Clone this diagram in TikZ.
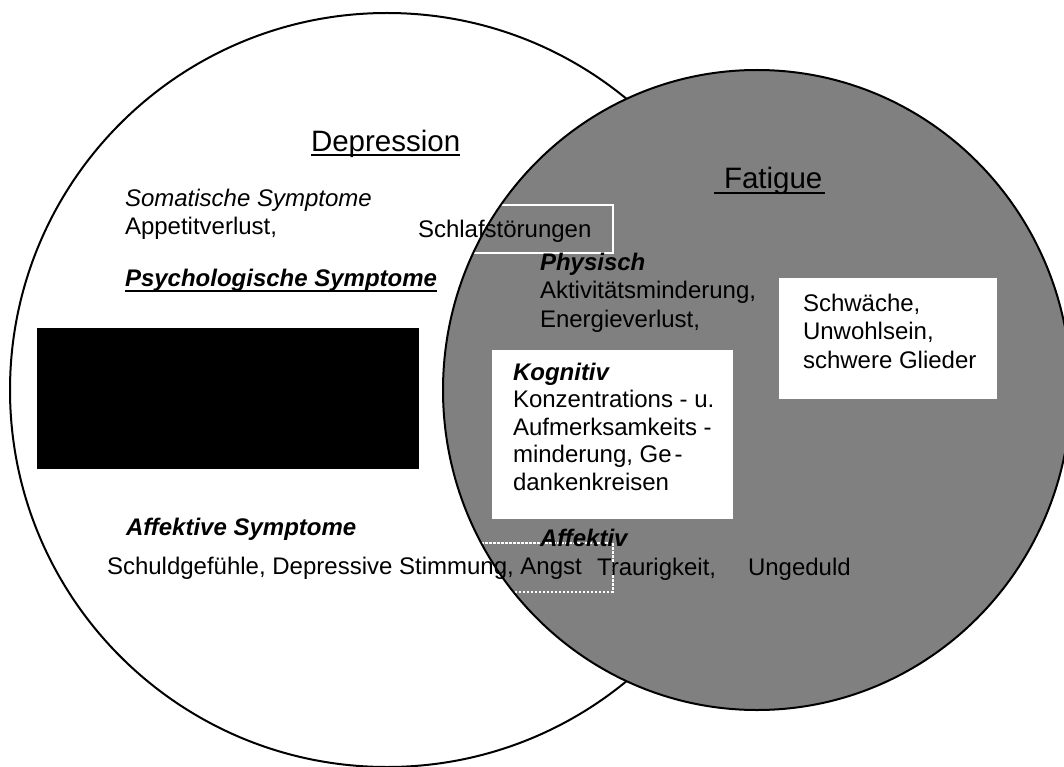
\documentclass[tikz,border=0pt]{standalone}
\usepackage{fontspec}
\setmainfont{Liberation Sans}
\definecolor{venngray}{RGB}{128,128,128}
\tikzset{
  t/.style={inner sep=0pt, outer sep=0pt, anchor=base west, font=\fontsize{24}{28}\selectfont},
  ti/.style={t, font=\fontsize{24}{28}\selectfont\itshape},
  tb/.style={t, font=\fontsize{24}{28}\selectfont\bfseries\itshape},
  title/.style={inner sep=0pt, outer sep=0pt, anchor=base west, font=\fontsize{29.5}{34}\selectfont},
  whitebox/.style={fill=white, draw=none, inner sep=0pt, anchor=north west},
  blackbox/.style={fill=black, draw=none, inner sep=0pt, anchor=north west},
  frame/.style={draw=white, line width=1.6pt},
  dashframe/.style={draw=white, line width=1.6pt, dash pattern=on 2.5pt off 1.5pt},
  ul/.style={line width=2pt},
}
\begin{document}
\begin{tikzpicture}[x=1pt,y=-1pt]
\useasboundingbox (0,0) rectangle (1064,767);
\clip (0,0) rectangle (1064,767);
% Depression circle
\filldraw[fill=white, draw=black, line width=2pt] (387,390) circle[radius=377pt];
% black rectangle
\node[blackbox, minimum width=382pt, minimum height=141pt] (blk) at (37,328) {};
% Fatigue circle (filled)
\fill[venngray] (757,390) ellipse[x radius=314pt, y radius=320pt];
% white boxes
\node[whitebox, minimum width=241pt, minimum height=169pt] (kogbox) at (492,350) {};
\node[whitebox, minimum width=218pt, minimum height=121pt] (schwbox) at (779,278) {};
% frames
\node[frame, inner sep=0pt, anchor=north west, minimum width=200pt, minimum height=48pt] (schlafbox) at (412,204) {};
\node[dashframe, inner sep=0pt, anchor=north west, minimum width=142pt, minimum height=49pt] (angstbox) at (470,542) {};
% Fatigue outline
\draw[black, line width=2pt] (757,390) ellipse[x radius=314pt, y radius=320pt];

% texts - Depression side
\node[title] (dep) at (311,152) {Depression};
\draw[ul] ([yshift=-3pt]dep.base west) -- ([yshift=-3pt]dep.base east);
\node[ti] (som) at (125,207) {Somatische Symptome};
\node[t] (app) at (125,234) {Appetitverlust,};
\node[t] (schlaf) at (418,237) {Schlafstörungen};
\node[tb] (psy) at (125,286) {Psychologische Symptome};
\draw[ul] ([yshift=-5pt]psy.base west) -- ([yshift=-5pt]psy.base east);
\node[tb] (affsym) at (126,535) {Affektive Symptome};
\node[t] (schuld) at (107,574) {Schuldgefühle, Depressive Stimmung, Angst};

% texts - Fatigue side
\node[title] (fat) at (724,189) {Fatigue};
\draw[ul] ([xshift=-10pt,yshift=-4pt]fat.base west) -- ([xshift=3pt,yshift=-4pt]fat.base east);
\node[tb] (phys) at (540,270) {Physisch};
\node[t] (akt) at (540,298) {Aktivitätsminderung,};
\node[t] (ener) at (540,327) {Energieverlust,};
\node[tb] (kog) at (513,380) {Kognitiv};
\node[t] (kon) at (513,407.5) {Konzentrations - u.};
\node[t] (auf) at (513,435) {Aufmerksamkeits -};
\node[t] (mind) at (513,462.5) {minderung, Ge\kern3pt-};
\node[t] (dank) at (513,490) {dankenkreisen};
\node[t] (schw) at (803,311) {Schwäche,};
\node[t] (unw) at (803,339.5) {Unwohlsein,};
\node[t] (glied) at (803,368) {schwere Glieder};
\node[tb] (affk) at (540,546) {Affektiv};
\node[t] (traur) at (597,575) {Traurigkeit,};
\node[t] (ung) at (748,575) {Ungeduld};
\end{tikzpicture}
\end{document}
